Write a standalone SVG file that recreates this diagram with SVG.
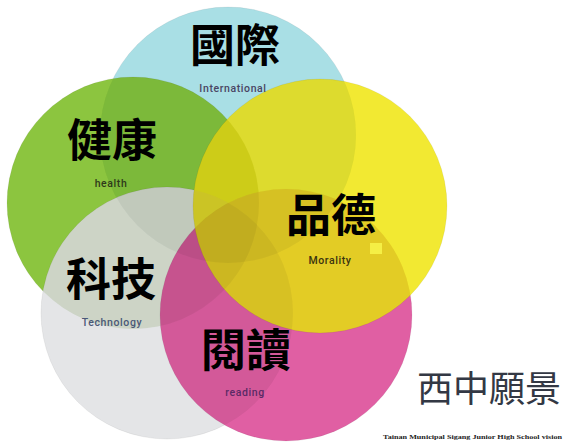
<svg xmlns="http://www.w3.org/2000/svg" width="564" height="444" viewBox="0 0 564 444">
<defs>
<circle id="g1" cx="228" cy="135" r="128"/>
<circle id="g2" cx="133" cy="203" r="126"/>
<circle id="g3" cx="167" cy="313" r="126"/>
<circle id="g4" cx="286" cy="315" r="126"/>
<circle id="g5" cx="320" cy="206" r="127"/>
</defs>
<style>
.c{fill-opacity:0.88;stroke:#000;stroke-opacity:0.06;stroke-width:1}
.d{fill:#000;fill-opacity:0.05}
.zh{font-family:"Noto Sans CJK TC","Noto Sans CJK SC",sans-serif;font-size:45px;font-weight:bold;fill:#000;text-anchor:middle}
.en{font-family:Roboto,"Liberation Sans",sans-serif;font-size:10.5px;font-weight:500;text-anchor:middle;letter-spacing:0.6px}
</style>
<rect width="564" height="444" fill="#fff"/>
<g id="circles">
<use href="#g1" class="c" fill="#a9e8f0"/>
<use href="#g2" class="c" fill="#85ca29"/>
<use href="#g3" class="c" fill="#eff0f3"/>
<use href="#g4" class="c" fill="#e950a1"/>
<use href="#g5" class="c" fill="#fff519"/>
<use href="#g1" class="d"/>
<use href="#g2" class="d"/>
<use href="#g3" class="d"/>
<use href="#g4" class="d"/>
<use href="#g5" class="d"/>
</g>
<g id="n-intl">
<text class="zh" x="235" y="62">國際</text>
<text class="en" x="233" y="92" fill="#4a4563">International</text>
</g>
<g id="n-health">
<text class="zh" x="112" y="157">健康</text>
<text class="en" x="111" y="187" fill="#2f3a1a">health</text>
</g>
<g id="n-moral">
<text class="zh" x="331" y="232">品德</text>
<text class="en" x="330" y="264" fill="#3a3410">Morality</text>
<rect x="370" y="243" width="12" height="11" fill="#f5ef45"/>
</g>
<g id="n-tech">
<text class="zh" x="111" y="296">科技</text>
<text class="en" x="112" y="326" fill="#4a5878">Technology</text>
</g>
<g id="n-read">
<text class="zh" x="246" y="367">閱讀</text>
<text class="en" x="245" y="396" fill="#5a2a66">reading</text>
</g>
<text x="489" y="402" font-family="'Noto Sans CJK TC','Noto Sans CJK SC',sans-serif" font-size="36" fill="#333844" text-anchor="middle">西中願景</text>
<text x="383" y="439" font-family="'Liberation Serif',serif" font-size="6" font-weight="bold" fill="#222" textLength="179" lengthAdjust="spacingAndGlyphs">Tainan Municipal Sigang Junior High School   vision</text>
</svg>
